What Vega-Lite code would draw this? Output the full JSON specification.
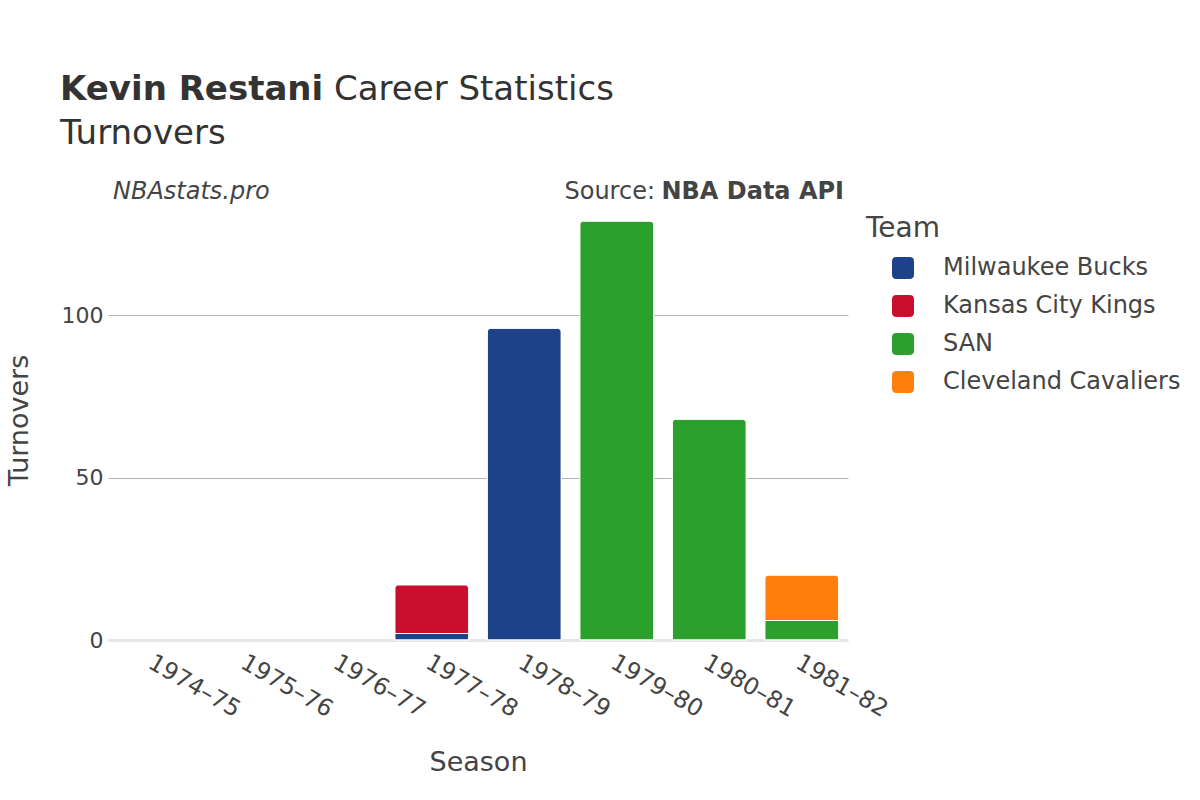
{
  "$schema": "https://vega.github.io/schema/vega-lite/v6.json",
  "width": 740,
  "height": 441,
  "autosize": "none",
  "padding": {"left": 108, "top": 199, "right": 352, "bottom": 160},
  "background": "white",
  "config": {
    "font": "DejaVu Sans",
    "view": {"stroke": null}
  },
  "layer": [
    {
      "data": {
        "values": [
          {"season": "1977–78", "team": "Milwaukee Bucks", "turnovers": 2},
          {"season": "1977–78", "team": "Kansas City Kings", "turnovers": 15},
          {"season": "1978–79", "team": "Milwaukee Bucks", "turnovers": 96},
          {"season": "1979–80", "team": "SAN", "turnovers": 129},
          {"season": "1980–81", "team": "SAN", "turnovers": 68},
          {"season": "1981–82", "team": "SAN", "turnovers": 6},
          {"season": "1981–82", "team": "Cleveland Cavaliers", "turnovers": 14}
        ]
      },
      "mark": {"type": "bar", "stroke": "white", "strokeWidth": 1, "cornerRadiusTopLeft": 4, "cornerRadiusTopRight": 4},
      "encoding": {
        "x": {
          "field": "season",
          "type": "ordinal",
          "scale": {
            "domain": ["1974–75", "1975–76", "1976–77", "1977–78", "1978–79", "1979–80", "1980–81", "1981–82"],
            "paddingInner": 0.2,
            "paddingOuter": 0.1
          },
          "axis": {
            "title": "Season",
            "titleFontSize": 27,
            "titleFontWeight": "normal",
            "titleColor": "#444",
            "titleX": 370,
            "titleY": 130,
            "titleAlign": "center",
            "titleBaseline": "alphabetic",
            "labelAngle": 30,
            "labelFontSize": 23.5,
            "labelColor": "#444",
            "labelPadding": 10,
            "labelOffset": 2,
            "ticks": false,
            "domainColor": "#e6e6e6",
            "domainWidth": 3,
            "grid": false
          }
        },
        "y": {
          "field": "turnovers",
          "type": "quantitative",
          "stack": "zero",
          "scale": {"domain": [0, 135.8], "nice": false},
          "axis": {
            "title": "Turnovers",
            "titleFontSize": 27,
            "titleFontWeight": "normal",
            "titleColor": "#444",
            "titleX": -81,
            "titleY": 221,
            "titleAngle": 270,
            "titleAlign": "center",
            "titleBaseline": "alphabetic",
            "values": [0, 50, 100],
            "labelFontSize": 22,
            "labelColor": "#444",
            "labelPadding": 5,
            "ticks": false,
            "domain": false,
            "grid": true,
            "gridColor": {"condition": {"test": "datum.value === 0", "value": "transparent"}, "value": "#b4b4b4"},
            "gridWidth": 1.2
          }
        },
        "color": {
          "field": "team",
          "type": "nominal",
          "scale": {
            "domain": ["Milwaukee Bucks", "Kansas City Kings", "SAN", "Cleveland Cavaliers"],
            "range": ["#1D428A", "#C8102E", "#2CA02C", "#FF7F0E"]
          },
          "legend": {
            "title": "Team",
            "orient": "none",
            "legendX": 758,
            "legendY": 16,
            "titleFontSize": 28,
            "titleFontWeight": "normal",
            "titleColor": "#444",
            "titlePadding": 13,
            "labelFontSize": 24,
            "labelColor": "#444",
            "labelOffset": 28,
            "labelLimit": 400,
            "symbolType": "M-1,-0.6 Q-1,-1 -0.6,-1 L0.6,-1 Q1,-1 1,-0.6 L1,0.6 Q1,1 0.6,1 L-0.6,1 Q-1,1 -1,0.6 Z",
            "symbolSize": 484,
            "symbolStrokeWidth": 0,
            "symbolOffset": 25,
            "rowPadding": 14,
            "padding": 0
          }
        },
        "order": {"field": "team", "sort": "descending"}
      }
    },
    {
      "data": {"values": [{"t": "Kevin Restani"}]},
      "mark": {"type": "text", "align": "left", "baseline": "alphabetic", "fontSize": 34, "fontWeight": "bold", "color": "#333"},
      "encoding": {"text": {"field": "t"}, "x": {"value": -48}, "y": {"value": -99}}
    },
    {
      "data": {"values": [{"t": "Career Statistics"}]},
      "mark": {"type": "text", "align": "left", "baseline": "alphabetic", "fontSize": 34, "color": "#333"},
      "encoding": {"text": {"field": "t"}, "x": {"value": 226}, "y": {"value": -99}}
    },
    {
      "data": {"values": [{"t": "Turnovers"}]},
      "mark": {"type": "text", "align": "left", "baseline": "alphabetic", "fontSize": 34, "color": "#333"},
      "encoding": {"text": {"field": "t"}, "x": {"value": -48}, "y": {"value": -55}}
    },
    {
      "data": {"values": [{"t": "NBAstats.pro"}]},
      "mark": {"type": "text", "align": "left", "baseline": "alphabetic", "fontSize": 24, "fontStyle": "italic", "color": "#444"},
      "encoding": {"text": {"field": "t"}, "x": {"value": 5}, "y": {"value": 0}}
    },
    {
      "data": {"values": [{"t": "Source:"}]},
      "mark": {"type": "text", "align": "right", "baseline": "alphabetic", "fontSize": 24, "color": "#444"},
      "encoding": {"text": {"field": "t"}, "x": {"value": 547}, "y": {"value": 0}}
    },
    {
      "data": {"values": [{"t": "NBA Data API"}]},
      "mark": {"type": "text", "align": "right", "baseline": "alphabetic", "fontSize": 24, "fontWeight": "bold", "color": "#444"},
      "encoding": {"text": {"field": "t"}, "x": {"value": 736}, "y": {"value": 0}}
    }
  ]
}
